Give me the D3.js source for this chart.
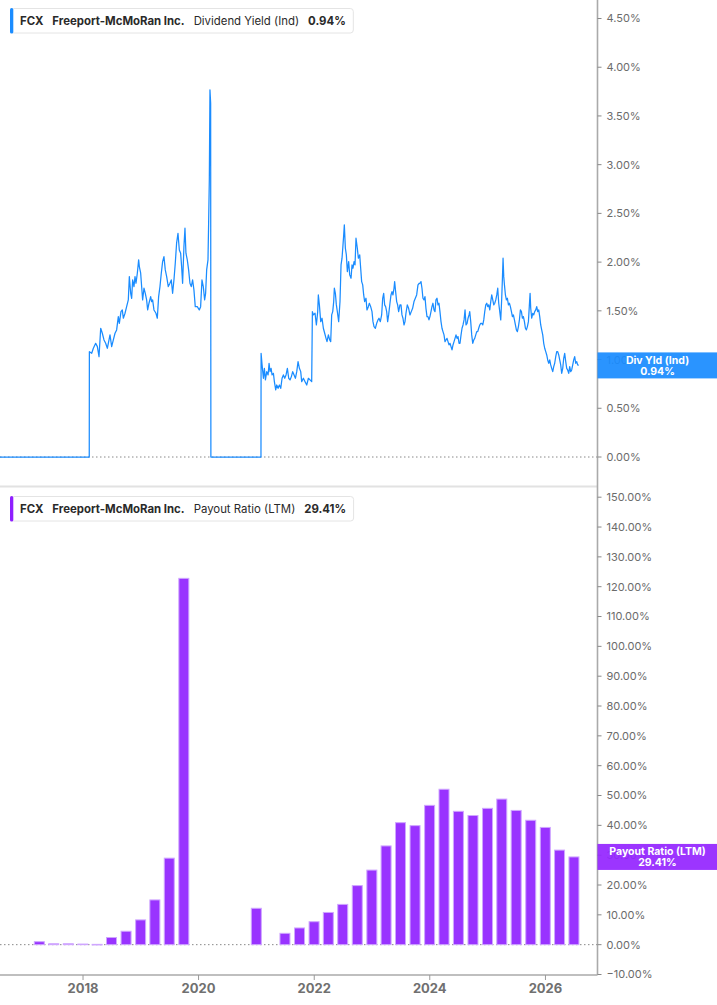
<!DOCTYPE html>
<html>
<head>
<meta charset="utf-8">
<script src="https://cdn.jsdelivr.net/npm/d3@7"></script>
<style>
  html, body { margin: 0; padding: 0; background: #fff; }
  svg { display: block; font-family: Inter, "Noto Sans", sans-serif; }
</style>
</head>
<body>
<svg id="chart" width="717" height="1005"></svg>
<script>
// ---------------- DATA ----------------
const ticker = "FCX";
const company = "Freeport-McMoRan Inc.";
const topMetric = "Dividend Yield (Ind)";
const topShort = "Div Yld (Ind)";
const topLast = 0.94;
const bottomMetric = "Payout Ratio (LTM)";
const bottomLast = 29.41;

const xTickYears = [2018, 2020, 2022, 2024, 2026];
const topTicks = [0, 0.5, 1.0, 1.5, 2.0, 2.5, 3.0, 3.5, 4.0, 4.5];
const bottomTicks = [-10, 0, 10, 20, 30, 40, 50, 60, 70, 80, 90, 100, 110, 120, 130, 140, 150];

// Dividend yield (%) — dates as decimal years
const divYears = [
  2016.564, 2018.108,
  2018.110, 2018.150, 2018.179, 2018.219, 2018.248, 2018.277, 2018.306, 2018.334, 2018.363, 2018.392,
  2018.421, 2018.450, 2018.467, 2018.496, 2018.525, 2018.554, 2018.582, 2018.611, 2018.629, 2018.657,
  2018.680, 2018.698, 2018.727, 2018.755, 2018.784, 2018.802, 2018.825, 2018.842, 2018.859, 2018.882,
  2018.900, 2018.917, 2018.940, 2018.963, 2018.975, 2018.998, 2019.015, 2019.032, 2019.055, 2019.078,
  2019.101, 2019.119, 2019.142, 2019.171, 2019.188, 2019.205, 2019.228, 2019.263, 2019.286, 2019.309,
  2019.332, 2019.355, 2019.378, 2019.401, 2019.424, 2019.448, 2019.476, 2019.505, 2019.528, 2019.551,
  2019.574, 2019.597, 2019.620, 2019.644, 2019.667, 2019.690, 2019.707, 2019.724, 2019.747, 2019.765,
  2019.782, 2019.805, 2019.828, 2019.851, 2019.874, 2019.897, 2019.920, 2019.943, 2019.978, 2020.013,
  2020.036, 2020.059, 2020.082, 2020.105, 2020.122, 2020.140, 2020.163, 2020.174, 2020.186, 2020.197,
  2020.209, 2020.213, 2021.078,
  2021.080, 2021.097, 2021.120, 2021.137, 2021.155, 2021.178, 2021.201, 2021.218, 2021.235, 2021.253,
  2021.270, 2021.293, 2021.310, 2021.333, 2021.351, 2021.374, 2021.397, 2021.420, 2021.443, 2021.466,
  2021.489, 2021.512, 2021.535, 2021.558, 2021.581, 2021.604, 2021.627, 2021.651, 2021.674, 2021.697,
  2021.720, 2021.743, 2021.766, 2021.783, 2021.812, 2021.841, 2021.870, 2021.899, 2021.927, 2021.956,
  2021.968, 2021.985, 2022.014, 2022.037, 2022.060, 2022.071, 2022.089, 2022.112, 2022.135, 2022.158,
  2022.181, 2022.204, 2022.221, 2022.245, 2022.268, 2022.285, 2022.302, 2022.320, 2022.337, 2022.348,
  2022.366, 2022.383, 2022.400, 2022.423, 2022.446, 2022.464, 2022.481, 2022.498, 2022.510, 2022.521,
  2022.539, 2022.556, 2022.573, 2022.596, 2022.614, 2022.637, 2022.654, 2022.671, 2022.689, 2022.706,
  2022.723, 2022.746, 2022.764, 2022.787, 2022.804, 2022.821, 2022.839, 2022.856, 2022.873, 2022.896,
  2022.913, 2022.937, 2022.954, 2022.977, 2023.000, 2023.017, 2023.035, 2023.058, 2023.081, 2023.104,
  2023.121, 2023.144, 2023.167, 2023.185, 2023.202, 2023.219, 2023.236, 2023.254, 2023.271, 2023.288,
  2023.311, 2023.329, 2023.346, 2023.363, 2023.381, 2023.392, 2023.409, 2023.427, 2023.444, 2023.461,
  2023.484, 2023.502, 2023.519, 2023.536, 2023.554, 2023.571, 2023.588, 2023.611, 2023.634, 2023.657,
  2023.680, 2023.703, 2023.727, 2023.750, 2023.773, 2023.796, 2023.819,
  2023.830, 2023.848, 2023.865, 2023.882, 2023.900, 2023.917, 2023.934, 2023.952, 2023.969, 2023.986,
  2024.003, 2024.021, 2024.038, 2024.055, 2024.073, 2024.090, 2024.107, 2024.125, 2024.142, 2024.159,
  2024.176, 2024.194, 2024.211, 2024.228, 2024.246, 2024.263, 2024.280, 2024.298, 2024.315, 2024.332,
  2024.349, 2024.367, 2024.384, 2024.401, 2024.419, 2024.436, 2024.453, 2024.471, 2024.488, 2024.505,
  2024.522, 2024.540, 2024.557, 2024.574, 2024.592, 2024.609, 2024.626, 2024.644, 2024.661, 2024.678,
  2024.690, 2024.707, 2024.724, 2024.742, 2024.759, 2024.776, 2024.794, 2024.811, 2024.828, 2024.845,
  2024.863, 2024.880, 2024.897, 2024.915, 2024.932, 2024.949, 2024.967, 2024.984, 2025.001, 2025.018,
  2025.036, 2025.053, 2025.070, 2025.088, 2025.105, 2025.122, 2025.140, 2025.157, 2025.174, 2025.191,
  2025.209, 2025.226, 2025.243, 2025.255, 2025.266, 2025.278, 2025.290, 2025.307, 2025.324, 2025.341,
  2025.359, 2025.376, 2025.393, 2025.411, 2025.428, 2025.445, 2025.463, 2025.480, 2025.497, 2025.514,
  2025.532, 2025.549, 2025.566, 2025.584, 2025.601, 2025.618, 2025.636, 2025.653, 2025.670, 2025.687,
  2025.705, 2025.722, 2025.734, 2025.745, 2025.762, 2025.780, 2025.797, 2025.814, 2025.832, 2025.849,
  2025.866, 2025.884, 2025.901, 2025.918, 2025.935, 2025.953, 2025.970, 2025.987, 2026.005, 2026.022,
  2026.039, 2026.057, 2026.074, 2026.091, 2026.108, 2026.126, 2026.143, 2026.160, 2026.178, 2026.195,
  2026.212, 2026.230, 2026.247, 2026.264, 2026.281, 2026.299, 2026.316, 2026.333, 2026.351, 2026.368,
  2026.385, 2026.403, 2026.420, 2026.437, 2026.454, 2026.472, 2026.489, 2026.506, 2026.524, 2026.541,
  2026.558, 2026.575
];
const divValues = [
  0, 0,
  1.081, 1.064, 1.116, 1.167, 1.133, 1.030, 1.321, 1.270, 1.201, 1.167,
  1.116, 1.201, 1.253, 1.133, 1.201, 1.270, 1.304, 1.441, 1.372, 1.492,
  1.509, 1.424, 1.475, 1.543, 1.612, 1.851, 1.680, 1.629, 1.817, 1.749,
  1.851, 1.783, 1.886, 2.023, 1.954, 1.886, 1.749, 1.612, 1.732, 1.680,
  1.612, 1.509, 1.578, 1.646, 1.595, 1.612, 1.509, 1.475, 1.424, 1.646,
  1.749, 1.886, 2.005, 2.057, 1.920, 1.851, 1.749, 1.783, 1.817, 1.680,
  1.817, 1.988, 2.194, 2.296, 2.125, 2.091, 1.954, 1.783, 2.160, 2.348,
  2.091, 2.023, 1.920, 1.783, 1.749, 1.817, 1.715, 1.543, 1.543, 1.509,
  1.543, 1.817, 1.749, 1.612, 1.680, 1.920, 2.023, 2.399, 2.844, 3.768,
  3.631, 0, 0,
  1.064, 0.945, 0.808, 0.910, 0.791, 0.876, 0.842, 0.962, 0.876, 0.910,
  0.842, 0.859, 0.773, 0.688, 0.739, 0.705, 0.739, 0.705, 0.808, 0.842,
  0.808, 0.842, 0.910, 0.808, 0.791, 0.825, 0.876, 0.842, 0.808, 0.876,
  0.979, 0.910, 0.876, 0.773, 0.808, 0.773, 0.739, 0.808, 0.791, 0.773,
  1.492, 1.458, 1.475, 1.355, 1.492, 1.663, 1.561, 1.389, 1.424, 1.321,
  1.270, 1.218, 1.184, 1.253, 1.201, 1.184, 1.458, 1.492, 1.595, 1.732,
  1.680, 1.561, 1.492, 1.389, 1.595, 1.971, 2.040, 2.177, 2.279, 2.382,
  2.142, 2.074, 1.903, 2.005, 1.869, 1.834, 1.971, 1.937, 2.005, 1.971,
  2.245, 2.142, 2.040, 2.074, 1.937, 1.800, 1.766, 1.663, 1.595, 1.629,
  1.509, 1.543, 1.578, 1.543, 1.492, 1.389, 1.338, 1.321, 1.372, 1.407,
  1.424, 1.389, 1.458, 1.629, 1.680, 1.561, 1.543, 1.492, 1.389, 1.458,
  1.578, 1.663, 1.697, 1.663, 1.732, 1.800, 1.697, 1.595, 1.561, 1.492,
  1.561, 1.561, 1.458, 1.424, 1.355, 1.389, 1.475, 1.561, 1.526, 1.458,
  1.492, 1.526, 1.595, 1.629, 1.663, 1.766, 1.783,
  1.783, 1.800, 1.732, 1.629, 1.612, 1.646, 1.526, 1.441, 1.441, 1.407,
  1.441, 1.492, 1.543, 1.578, 1.509, 1.492, 1.612, 1.629, 1.561, 1.578,
  1.492, 1.389, 1.321, 1.287, 1.253, 1.184, 1.201, 1.218, 1.184, 1.150,
  1.167, 1.133, 1.099, 1.150, 1.184, 1.218, 1.253, 1.218, 1.235, 1.167,
  1.167, 1.253, 1.321, 1.355, 1.407, 1.509, 1.355, 1.372, 1.424, 1.458,
  1.492, 1.389, 1.253, 1.167, 1.201, 1.218, 1.253, 1.287, 1.287, 1.321,
  1.355, 1.372, 1.372, 1.355, 1.407, 1.492, 1.561, 1.578, 1.543, 1.561,
  1.509, 1.595, 1.663, 1.612, 1.561, 1.578, 1.612, 1.663, 1.732, 1.578,
  1.492, 1.407, 1.629, 1.834, 2.040, 1.851, 1.766, 1.663, 1.612, 1.629,
  1.561, 1.578, 1.543, 1.492, 1.441, 1.458, 1.407, 1.355, 1.304, 1.287,
  1.338, 1.407, 1.509, 1.492, 1.424, 1.441, 1.389, 1.321, 1.304, 1.338,
  1.389, 1.561, 1.680, 1.526, 1.424, 1.475, 1.458, 1.492, 1.509, 1.543,
  1.492, 1.509, 1.441, 1.355, 1.304, 1.253, 1.167, 1.116, 1.081, 1.047,
  0.996, 0.962, 0.996, 0.945, 0.910, 0.876, 0.927, 0.962, 1.030, 1.081,
  1.081, 1.047, 0.996, 0.945, 0.859, 0.910, 1.013, 1.064, 0.979, 0.910,
  0.893, 0.859, 0.927, 0.876, 0.893, 0.945, 0.996, 1.030, 0.962, 0.979,
  0.945, 0.940
];

// Payout ratio (LTM, %) — quarterly
const payoutQuarters = [
  "2017Q1","2017Q2","2017Q3","2017Q4","2018Q1","2018Q2","2018Q3","2018Q4",
  "2019Q1","2019Q2","2019Q3","2019Q4","2020Q1","2020Q2","2020Q3","2020Q4",
  "2021Q1","2021Q2","2021Q3","2021Q4","2022Q1","2022Q2","2022Q3","2022Q4",
  "2023Q1","2023Q2","2023Q3","2023Q4","2024Q1","2024Q2","2024Q3","2024Q4",
  "2025Q1","2025Q2","2025Q3","2025Q4","2026Q1","2026Q2"
];
const payoutValues = [
  1.0, 0.3, 0.3, 0.2, 0.1, 2.4, 4.5, 8.3,
  15.0, 29.0, 122.8, null, null, null, null, 12.2,
  null, 3.8, 5.6, 7.7, 10.8, 13.5, 19.8, 25.0,
  33.1, 40.9, 39.9, 46.7, 52.1, 44.7, 43.3, 45.7,
  48.8, 45.0, 41.7, 39.3, 31.7, 29.41
];

// ---------------- HELPERS ----------------
function decYearToDate(y) {
  const yr = Math.floor(y);
  const a = Date.UTC(yr, 0, 1), b = Date.UTC(yr + 1, 0, 1);
  return new Date(a + (y - yr) * (b - a));
}
function quarterEnd(q) {
  const yr = +q.slice(0, 4), qi = +q.slice(5);
  return new Date(Date.UTC(yr, qi * 3, 0)); // last day of quarter
}

// ---------------- LAYOUT ----------------
const W = 717, H = 1005;
const plotLeft = 0, plotRight = 597.5;
const BLUE = "#1a8cff", PURPLE = "#9933ff";
const svg = d3.select("#chart");

const x = d3.scaleUtc()
  .domain([decYearToDate(2016.564), decYearToDate(2026.901)])
  .range([plotLeft, plotRight]);

const yTop = d3.scaleLinear().domain([0, 4.5]).range([457, 18.5]);
const yBot = d3.scaleLinear().domain([-10, 150]).range([974.5, 497.2]);

// separator between panels
svg.append("line").attr("x1", 0).attr("x2", plotRight).attr("y1", 486.5).attr("y2", 486.5)
  .attr("stroke", "#e2e2e2").attr("stroke-width", 2);

// zero reference lines (dotted)
svg.append("line").attr("x1", 0).attr("x2", plotRight).attr("y1", yTop(0)).attr("y2", yTop(0))
  .attr("stroke", "#888").attr("stroke-width", 1).attr("stroke-dasharray", "1.5,2.5");
svg.append("line").attr("x1", 0).attr("x2", plotRight).attr("y1", yBot(0)).attr("y2", yBot(0))
  .attr("stroke", "#888").attr("stroke-width", 1).attr("stroke-dasharray", "1.5,2.5");

// ---------------- TOP: Dividend yield line ----------------
const divData = divYears.map((yv, i) => ({ date: decYearToDate(yv), v: divValues[i] }));
svg.append("path").datum(divData)
  .attr("fill", "none").attr("stroke", BLUE).attr("stroke-width", 1.25)
  .attr("stroke-linejoin", "round")
  .attr("d", d3.line().x(d => x(d.date)).y(d => yTop(d.v)));

// ---------------- BOTTOM: Payout ratio bars ----------------
const barData = payoutQuarters.map((q, i) => ({ date: quarterEnd(q), v: payoutValues[i] }))
  .filter(d => d.v !== null);
const barW = 10;
svg.append("g").selectAll("rect").data(barData).join("rect")
  .attr("x", d => x(d.date) - barW / 2)
  .attr("width", barW)
  .attr("y", d => yBot(d.v))
  .attr("height", d => Math.max(0.6, yBot(0) - yBot(d.v)))
  .attr("fill", PURPLE)
  .attr("stroke", "#cfa6ff").attr("stroke-width", 1);

// ---------------- AXES ----------------
const axisColor = "#aaaaaa", labelColor = "#6b6b6b";
svg.append("line").attr("x1", plotRight).attr("x2", plotRight).attr("y1", 0).attr("y2", 975)
  .attr("stroke", axisColor).attr("stroke-width", 1.6);
svg.append("line").attr("x1", 0).attr("x2", plotRight).attr("y1", 975).attr("y2", 975)
  .attr("stroke", axisColor).attr("stroke-width", 1.6);

function rightTicks(scale, ticks) {
  const g = svg.append("g");
  ticks.forEach(t => {
    const yy = scale(t);
    g.append("line").attr("x1", plotRight).attr("x2", plotRight + 4).attr("y1", yy).attr("y2", yy)
      .attr("stroke", "#888").attr("stroke-width", 1);
    g.append("text").attr("x", 606.5).attr("y", yy).attr("dy", "0.36em")
      .attr("font-size", 11).attr("fill", labelColor)
      .text(d3.format(".2f")(t) + "%");
  });
}
rightTicks(yTop, topTicks);
rightTicks(yBot, bottomTicks);

const xg = svg.append("g");
xTickYears.forEach(yr => {
  const xx = x(new Date(Date.UTC(yr, 0, 1)));
  xg.append("line").attr("x1", xx).attr("x2", xx).attr("y1", 975).attr("y2", 980)
    .attr("stroke", "#999").attr("stroke-width", 1);
  xg.append("text").attr("x", xx).attr("y", 992.5).attr("text-anchor", "middle")
    .attr("font-size", 13).attr("font-weight", 700).attr("fill", "#707070")
    .text(String(yr));
});

// ---------------- LAST VALUE TAGS ----------------
function tag(scale, value, color, line1, line2) {
  const cy = scale(value);
  const g = svg.append("g");
  g.append("rect").attr("x", plotRight).attr("y", cy - 13).attr("width", W - plotRight).attr("height", 26)
    .attr("fill", color).attr("opacity", 0.93);
  g.append("text").attr("x", 657.5).attr("y", cy - 1.5).attr("text-anchor", "middle")
    .attr("font-size", 10.5).attr("font-weight", 700).attr("fill", "#fff").text(line1);
  g.append("text").attr("x", 657.5).attr("y", cy + 9.5).attr("text-anchor", "middle")
    .attr("font-size", 10.5).attr("font-weight", 700).attr("fill", "#fff").text(line2);
}
tag(yTop, topLast, BLUE, topShort, d3.format(".2f")(topLast) + "%");
tag(yBot, bottomLast, "#9526ff", bottomMetric, d3.format(".2f")(bottomLast) + "%");

// ---------------- LEGENDS ----------------
function legend(yTopBox, color, metric, last) {
  const g = svg.append("g");
  const box = g.append("rect").attr("x", 10.5).attr("y", yTopBox + 0.5).attr("height", 24.5)
    .attr("rx", 3).attr("fill", "#fff").attr("stroke", "#e4e4e4").attr("stroke-width", 1);
  g.append("rect").attr("x", 10).attr("y", yTopBox).attr("width", 3.3).attr("height", 25.5)
    .attr("rx", 1.6).attr("fill", color);
  const items = [
    { t: ticker, w: 700 }, { t: company, w: 700 }, { t: metric, w: 400 }, { t: last, w: 700 }
  ];
  let cx = 20;
  const base = yTopBox + 17;
  items.forEach(it => {
    const t = g.append("text").attr("x", cx).attr("y", base)
      .attr("font-size", 11.4).attr("font-weight", it.w).attr("fill", "#2a2a2a").text(it.t);
    cx += t.node().getComputedTextLength() + 9;
  });
  box.attr("width", cx - 9 + 7.5 - 10.5);
}
legend(8, BLUE, topMetric, d3.format(".2f")(topLast) + "%");
legend(496, "#8f1fff", bottomMetric, d3.format(".2f")(bottomLast) + "%");
</script>
</body>
</html>
